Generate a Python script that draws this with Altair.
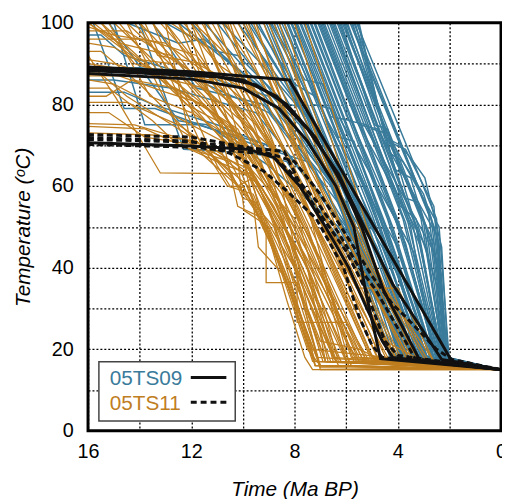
import altair as alt
import pandas as pd

BLUE = "#3a7b9b"
ORANGE = "#bf7e1f"
BLACK = "#111111"
FONT = "Liberation Sans"

X_DOMAIN = [16, 0]
Y_DOMAIN = [0, 100]

# present-day surface temperature where every path ends
END = (0.0, 15.0)

# 05TS09 accepted t-T paths (time Ma, temperature C)
blue_paths = [
    [(9.2, 100), (6.5, 60), (4.3, 18)],
    [(9.0, 100), (6.2, 58), (4.1, 17)],
    [(8.8, 100), (6.0, 57), (3.9, 18)],
    [(8.6, 100), (5.8, 57), (3.7, 17)],
    [(8.4, 100), (5.6, 56), (3.5, 19)],
    [(8.25, 100), (5.4, 55), (3.3, 17)],
    [(8.1, 100), (5.2, 54), (3.2, 18)],
    [(7.95, 100), (5.0, 53), (3.0, 17)],
    [(7.8, 100), (4.9, 54), (2.9, 18)],
    [(7.65, 100), (4.7, 52), (2.8, 17)],
    [(7.5, 100), (4.5, 51), (2.7, 18)],
    [(7.35, 100), (4.4, 52), (2.6, 17)],
    [(7.2, 100), (4.2, 50), (2.55, 17)],
    [(7.05, 100), (4.1, 52), (2.5, 18)],
    [(6.9, 100), (3.9, 50), (2.45, 17)],
    [(6.75, 100), (3.8, 52), (2.4, 16)],
    [(6.6, 100), (3.6, 51), (2.35, 18)],
    [(6.45, 100), (3.4, 50), (2.3, 17)],
    [(6.3, 100), (3.2, 49), (2.25, 17)],
    [(6.15, 100), (3.1, 52), (2.2, 17)],
    [(6.0, 100), (2.9, 50), (2.15, 16)],
    [(5.85, 100), (2.8, 53), (2.1, 17)],
    [(5.7, 100), (2.6, 50), (2.05, 17)],
    [(5.6, 100), (2.5, 52), (2.1, 18)],
    [(5.5, 100), (4.5, 72), (3.9, 70), (3.4, 66), (2.95, 62), (2.3, 45), (2.05, 18)],
    [(5.55, 100), (4.3, 68), (3.8, 66), (3.0, 58), (2.4, 46), (2.1, 17)],
    [(5.65, 100), (4.1, 64), (3.5, 62), (2.45, 40), (2.2, 17)],
    [(6.05, 100), (3.7, 57), (3.2, 56), (2.3, 38), (2.2, 17)],
    [(6.5, 100), (3.9, 55), (3.3, 52), (2.5, 36), (2.3, 18)],
    [(9.1, 100), (6.4, 60), (4.2, 17)],
    [(8.7, 100), (5.9, 58), (3.8, 17)],
    [(8.3, 100), (5.5, 56), (3.4, 18)],
    [(7.9, 100), (5.0, 55), (3.05, 17)],
    [(7.55, 100), (4.6, 52), (2.75, 18)],
    [(7.25, 100), (4.3, 51), (2.6, 17)],
    [(6.95, 100), (4.0, 51), (2.45, 18)],
    [(6.65, 100), (3.7, 51), (2.35, 17)],
    [(6.35, 100), (3.3, 50), (2.25, 18)],
    [(6.1, 100), (3.0, 51), (2.2, 16)],
    [(5.8, 100), (2.7, 52), (2.1, 18)],
    [(7.0, 100), (5.5, 75), (4.8, 74), (3.5, 50), (2.6, 17)],
    [(6.2, 100), (4.9, 75), (4.4, 74), (3.2, 48), (2.3, 17)],
    [(8.0, 100), (6.3, 72), (5.7, 71), (4.0, 40), (3.0, 17)],
    [(10.0, 100), (8.2, 80), (7.5, 79), (5.0, 50), (3.1, 18)],
    [(9.4, 100), (7.6, 78), (4.6, 45), (2.9, 17)],
    [(8.95, 100), (7.3, 80), (6.6, 79), (4.2, 45), (2.7, 17)],
    [(8.5, 100), (6.9, 78), (4.0, 45), (2.6, 18)],
    [(8.15, 100), (6.6, 77), (5.8, 76), (3.7, 46), (2.5, 17)],
    [(7.75, 100), (6.2, 76), (3.4, 44), (2.4, 17)],
    [(7.4, 100), (5.9, 76), (5.2, 75), (3.1, 45), (2.3, 18)],
    [(7.1, 100), (5.6, 76), (2.9, 45), (2.2, 17)],
    [(6.85, 100), (5.3, 75), (2.7, 45), (2.15, 17)],
    [(6.55, 100), (5.0, 74), (4.5, 73), (2.6, 46), (2.1, 16)],
    [(6.25, 100), (4.7, 73), (2.5, 48), (2.05, 17)],
    [(5.95, 100), (4.5, 74), (2.4, 50), (2.0, 17)],
    [(5.75, 100), (4.4, 71), (3.7, 69), (2.6, 55), (2.1, 17)],
    [(9.7, 100), (8.0, 82), (5.8, 60), (3.6, 25), (3.4, 17)],
    [(11.0, 100), (9.0, 84), (6.9, 65), (4.4, 30), (3.8, 18)],
    [(12.0, 100), (9.6, 84), (7.2, 64), (4.8, 33), (4.0, 17)],
    [(16, 89), (14, 89), (12, 88), (9, 82), (6.3, 58), (3.5, 17)],
    [(16, 86), (15, 86), (12.8, 84), (9.5, 78), (6.0, 50), (3.3, 17)],
    [(13.5, 100), (11.8, 84), (9.2, 80), (6.6, 60), (3.8, 18)],
    [(16, 97), (15.5, 97), (14.6, 92), (12.5, 88), (9.0, 78), (6.2, 55), (3.8, 18)],
    [(16, 83), (14.6, 83), (13.5, 80), (11.0, 75), (8.3, 68), (5.5, 45), (3.5, 17)],
    [(15.8, 100), (14.6, 79), (13.4, 79), (9.5, 70), (7.5, 66), (5.0, 40), (3.3, 17)],
    [(14.0, 100), (12.3, 69), (9.6, 68), (8.3, 66), (5.8, 42), (3.4, 18)],
    [(15.0, 100), (13.8, 75), (11.75, 75), (9.0, 70), (6.0, 45), (3.2, 17)],
    [(12.5, 100), (10.5, 90), (8.8, 82), (6.7, 62), (3.6, 17)],
    [(11.5, 100), (9.8, 88), (7.8, 75), (5.2, 45), (3.4, 18)],
    [(10.8, 100), (9.3, 90), (7.4, 76), (4.8, 45), (3.1, 17)],
    [(10.2, 100), (8.8, 88), (6.5, 68), (3.0, 18)],
    [(9.8, 100), (8.5, 87), (4.5, 40), (3.3, 17)],
    [(13.0, 100), (11.0, 93), (10.2, 92), (8.0, 78), (5.5, 50), (3.9, 17)],
    [(14.5, 100), (12.5, 95), (11.5, 96), (9.5, 85), (6.0, 56), (3.7, 18)],
    [(9.5, 100), (8.0, 85), (7.2, 82), (4.0, 38), (2.9, 17)],
    [(15.2, 100), (12.5, 76), (11.4, 75), (9.0, 65), (6.3, 50), (3.6, 18)],
    [(8.9, 100), (7.6, 86), (6.9, 85), (3.8, 35), (2.8, 17)],
]

# 05TS11 accepted t-T paths
orange_paths = [
    [(16, 100), (13.5, 88), (10.5, 70), (7.0, 16)],
    [(15.5, 100), (12.0, 80), (9.5, 62), (6.8, 17)],
    [(15.0, 100), (12.5, 85), (9.8, 66), (6.5, 18)],
    [(14.5, 100), (11.5, 82), (9.0, 60), (6.2, 17)],
    [(14.0, 100), (11.0, 80), (8.8, 60), (5.9, 16)],
    [(13.5, 100), (10.8, 78), (8.5, 58), (5.6, 17)],
    [(13.0, 100), (10.5, 80), (8.2, 58), (5.4, 18)],
    [(12.5, 100), (10.2, 78), (8.0, 56), (5.2, 17)],
    [(12.0, 100), (9.9, 80), (7.8, 58), (5.0, 17)],
    [(11.6, 100), (9.6, 78), (7.5, 55), (4.8, 18)],
    [(11.2, 100), (9.4, 80), (7.2, 54), (4.6, 17)],
    [(10.8, 100), (9.1, 78), (7.0, 52), (4.4, 17)],
    [(10.4, 100), (8.8, 80), (6.8, 52), (4.2, 18)],
    [(10.0, 100), (8.6, 80), (6.6, 50), (4.0, 17)],
    [(9.6, 100), (8.4, 82), (6.4, 50), (3.8, 17)],
    [(9.2, 100), (8.1, 82), (6.0, 47), (3.6, 18)],
    [(8.8, 100), (7.8, 84), (5.8, 48), (3.4, 17)],
    [(8.4, 100), (7.5, 83), (5.5, 45), (3.2, 17)],
    [(9.0, 100), (7.2, 70), (5.0, 40), (2.9, 17)],
    [(8.6, 100), (6.8, 66), (4.6, 36), (2.6, 17)],
    [(16, 98), (14.5, 98), (12.0, 88), (9.5, 70), (7.2, 45), (6.0, 17)],
    [(16, 95), (15.0, 94), (12.5, 85), (10.0, 72), (8.0, 50), (6.5, 20), (6.2, 17)],
    [(16, 90), (14.0, 88), (11.5, 84), (9.0, 70), (7.5, 50), (5.8, 18)],
    [(16, 86), (15.0, 85), (13.5, 80), (10.5, 70), (8.0, 52), (5.5, 18)],
    [(16, 80.5), (14.5, 80.5), (12.5, 75), (9.5, 62), (7.5, 40), (6.8, 17)],
    [(16, 75.3), (14.2, 75), (11.5, 70), (9.3, 60), (7.5, 40), (6.5, 17)],
    [(16, 74.6), (13.8, 74), (11.0, 66), (9.8, 63), (8.2, 45), (7.0, 15)],
    [(16, 92), (14.9, 81.4), (13.2, 63.2), (9.8, 63), (8.5, 48), (7.2, 30), (6.7, 17)],
    [(13.5, 100), (11.0, 65), (10.5, 60), (9.95, 59.6), (8.5, 40), (7.3, 17)],
    [(12.5, 100), (10.2, 66), (9.95, 54), (9.0, 50), (7.5, 30), (6.8, 17)],
    [(13.0, 100), (10.0, 70), (9.1, 48), (9.1, 36.3), (7.9, 36.3), (7.0, 16)],
    [(11.0, 100), (9.0, 65), (7.9, 40), (7.9, 26.6), (6.0, 26.6), (5.2, 17)],
    [(10.5, 100), (8.5, 60), (7.5, 30), (7.0, 22), (5.5, 20), (4.5, 17)],
    [(12.0, 100), (9.5, 58), (8.2, 36), (7.0, 15.5)],
    [(9.8, 100), (8.0, 70), (6.0, 40), (4.5, 22), (3.0, 17)],
    [(10.6, 100), (8.3, 62), (6.5, 38), (5.2, 20), (4.8, 17)],
    [(11.8, 100), (9.5, 68), (7.4, 40), (6.0, 22), (5.5, 17)],
    [(8.0, 100), (7.0, 80), (5.5, 50), (4.0, 28), (3.2, 17)],
    [(7.6, 100), (6.6, 80), (5.2, 50), (3.8, 28), (2.8, 17)],
    [(9.5, 100), (7.5, 62), (5.6, 35), (4.0, 35), (3.6, 30), (2.6, 17)],
    [(16, 100), (14.8, 95), (12.8, 92), (10.0, 78), (8.0, 55), (6.3, 17)],
    [(16, 93), (15.5, 93), (14.0, 85), (11.0, 66), (8.8, 50), (7.2, 17)],
    [(16, 88), (15.6, 88), (14.5, 82), (12.0, 72), (9.8, 60), (8.5, 40), (7.2, 16)],
    [(16, 84), (15.2, 84), (13.5, 76), (12.5, 70), (10.5, 66), (9.0, 48), (7.5, 20), (7.0, 16)],
    [(15.2, 100), (13.6, 82), (12.0, 78), (10.0, 70), (8.7, 55), (6.3, 16)],
    [(14.2, 100), (12.8, 88), (11.3, 86), (9.4, 72), (7.6, 48), (5.5, 17)],
    [(13.2, 100), (11.8, 90), (10.0, 84), (8.5, 70), (6.8, 45), (4.9, 17)],
    [(12.3, 100), (11.0, 90), (9.2, 82), (7.6, 62), (5.5, 30), (4.6, 17)],
    [(14.5, 100), (12.3, 72), (11.0, 64.5), (10.2, 60), (9.6, 62), (8.4, 48), (6.6, 17)],
    [(13.8, 100), (11.6, 70), (10.8, 68), (10.0, 57), (9.5, 56), (8.0, 40), (6.4, 17)],
    [(16, 99), (15.0, 97), (13.0, 95), (11.5, 88), (9.5, 75), (7.5, 55), (5.9, 17)],
    [(16, 96), (13.8, 96), (11.8, 92), (9.6, 74), (7.0, 42), (5.7, 17)],
    [(15.8, 100), (14.0, 91), (12.8, 90), (10.5, 72), (8.5, 50), (6.9, 17)],
    [(15.5, 100), (14.2, 90), (12.2, 86), (10.8, 76), (9.0, 55), (7.1, 18)],
    [(16, 91), (15.0, 90), (13.4, 87), (11.2, 78), (8.8, 55), (6.0, 17)],
    [(16, 87), (14.8, 87), (13.0, 83), (11.5, 80), (9.3, 66), (7.8, 40), (6.4, 17)],
    [(16, 82), (15.3, 82), (14.3, 86), (12.6, 84), (10.2, 74), (8.2, 50), (5.3, 17)],
    [(16, 78), (15.2, 78), (13.8, 72), (11.8, 70), (9.7, 64), (7.9, 45), (5.8, 16)],
    [(14.8, 100), (13.0, 86), (12.2, 80), (10.4, 74), (8.4, 54), (5.1, 17)],
    [(14.0, 100), (13.3, 92), (11.6, 90), (9.8, 80), (7.9, 60), (5.0, 18)],
    [(12.8, 100), (11.4, 94), (10.6, 85), (8.9, 70), (6.7, 44), (4.7, 17)],
    [(11.9, 100), (10.6, 92), (9.3, 76), (7.3, 52), (4.3, 17)],
    [(11.4, 100), (10.0, 86), (8.7, 72), (6.9, 50), (4.1, 18)],
    [(10.7, 100), (9.5, 88), (8.2, 72), (6.3, 48), (3.9, 17)],
    [(10.2, 100), (9.0, 86), (7.9, 72), (6.2, 50), (3.7, 18)],
    [(9.9, 100), (8.7, 84), (7.4, 64), (5.4, 40), (3.5, 17)],
    [(13.0, 100), (12.0, 70), (11.4, 68), (10.6, 60), (9.6, 58), (8.1, 35), (7.2, 16)],
    [(12.2, 100), (10.9, 75), (10.2, 55), (9.2, 52), (8.3, 32), (7.6, 18), (7.3, 15)],
    [(11.5, 100), (10.3, 75), (9.6, 56), (9.4, 45), (8.4, 38), (7.4, 20)],
    [(16, 73), (13.5, 72.5), (11.8, 71), (10.6, 64), (9.1, 50), (7.4, 22), (7.2, 16)],
]

# best-fit paths, 05TS09 (solid)
solid_paths = [
    [(16, 89.2), (12, 88), (8.2, 86), (1.9, 17)],
    [(16, 88.3), (11, 86.8), (9.5, 84.8), (8.3, 80), (7.2, 72), (6.2, 61), (5.4, 50), (4.56, 34.6), (3.14, 17.2)],
    [(16, 87.6), (12, 86.2), (10, 84), (8.6, 79), (7.5, 71), (6.4, 60), (5.7, 50), (5.24, 34), (4.67, 17.7)],
    [(16, 88.8), (12, 87.6), (10, 86), (8.7, 82), (7.5, 74), (6.3, 63), (5.3, 50), (4.2, 36), (2.3, 17.5)],
    [(16, 70.6), (12, 69.8), (9.8, 69), (8.8, 67), (7.8, 60), (6.8, 50), (5.9, 40), (5.2, 30), (4.6, 22), (4.2, 18)],
]

# best-fit paths, 05TS11 (dashed)
dashed_paths = [
    [(16, 72.6), (12, 72), (9.7, 69.3), (8.4, 68.5), (7.66, 59), (6.66, 50), (6.0, 44), (5.24, 34.6), (4.86, 28), (4.5, 22), (4.0, 18.5)],
    [(16, 71.9), (12, 71), (10.5, 68), (9.2, 63.7), (8.3, 58.8), (7.16, 52), (6.1, 40), (5.5, 28), (5.0, 21), (4.6, 18)],
    [(16, 70.2), (12, 69.5), (8.96, 67.8), (8.2, 63.7), (7.16, 56.4), (6.28, 48.4), (5.5, 40), (4.86, 34.6), (3.6, 20.8), (3.33, 17.7)],
    [(16, 71.4), (12, 70.8), (9.5, 69), (8.0, 66), (7.0, 58), (6.0, 48), (5.0, 38), (4.2, 31), (3.7, 28), (2.5, 20), (1.9, 17.5)],
]

x_ticks = list(range(16, -1, -2))
y_ticks = list(range(0, 101, 10))


def to_frame(paths, prefix):
    rows = []
    for i, p in enumerate(paths):
        pts = list(p) + [END]
        for j, (t, temp) in enumerate(pts):
            rows.append({"pid": f"{prefix}{i}", "k": j, "t": t, "T": temp})
    return pd.DataFrame(rows)


x_axis = alt.Axis(
    values=x_ticks,
    labelExpr="datum.value % 4 === 0 ? datum.label : ''",
    ticks=False, domain=False,
    grid=True, gridDash=[2, 2], gridColor="black", gridWidth=1.3,
    labelFont=FONT, labelFontSize=20, labelColor="black", labelPadding=11,
    labelOverlap=False, labelFlush=False,
    title="Time (Ma BP)", titleFont=FONT, titleFontSize=21,
    titleFontStyle="italic", titleFontWeight="normal", titleColor="black",
    titlePadding=17,
)
y_axis = alt.Axis(
    values=y_ticks,
    labelExpr="datum.value % 20 === 0 ? datum.label : ''",
    ticks=False, domain=False,
    grid=True, gridDash=[2, 2], gridColor="black", gridWidth=1.3,
    labelFont=FONT, labelFontSize=20, labelColor="black", labelPadding=15,
    labelOverlap=False, labelFlush=False,
    title="Temperature (ᵒC)", titleFont=FONT, titleFontSize=21,
    titleFontStyle="italic", titleFontWeight="normal", titleColor="black",
    titlePadding=7,
)

xs = alt.Scale(domain=X_DOMAIN, nice=False)
ys = alt.Scale(domain=Y_DOMAIN, nice=False)


def lines(df, color, width, dash=None, clip=True):
    kw = dict(color=color, strokeWidth=width, clip=clip)
    if dash:
        kw["strokeDash"] = dash
    return alt.Chart(df).mark_line(**kw).encode(
        x=alt.X("t:Q", scale=xs, axis=x_axis),
        y=alt.Y("T:Q", scale=ys, axis=y_axis),
        detail="pid:N", order="k:Q",
    )


blue = lines(to_frame(blue_paths, "b"), BLUE, 1.5)
orange = lines(to_frame(orange_paths, "o"), ORANGE, 1.3)
solid = lines(to_frame(solid_paths, "s"), BLACK, 3)
dashed = lines(to_frame(dashed_paths, "d"), BLACK, 3, [6, 3.5])

# plot frame along the axis domain corners
x0, x1 = X_DOMAIN
y0, y1 = Y_DOMAIN
frame_df = pd.DataFrame({
    "pid": ["frame"] * 5,
    "k": list(range(5)),
    "t": [x0, x0, x1, x1, x0],
    "T": [y0, y1, y1, y0, y0],
})
frame = alt.Chart(frame_df).mark_line(color="black", strokeWidth=3, clip=False,
                                      strokeJoin="miter", strokeCap="square").encode(
    x=alt.X("t:Q", scale=xs, axis=x_axis),
    y=alt.Y("T:Q", scale=ys, axis=y_axis),
    detail="pid:N", order="k:Q",
)

one = alt.Data(values=[{}])
box = alt.Chart(one).mark_rect(fill="white", stroke="#444", strokeWidth=1.5).encode(
    x=alt.value(11), x2=alt.value(149), y=alt.value(343), y2=alt.value(403))
t1 = alt.Chart(one).mark_text(text="05TS09", color=BLUE, fontSize=21, font=FONT,
                              align="left", baseline="alphabetic").encode(
    x=alt.value(22), y=alt.value(367))
t2 = alt.Chart(one).mark_text(text="05TS11", color=ORANGE, fontSize=21, font=FONT,
                              align="left", baseline="alphabetic").encode(
    x=alt.value(22), y=alt.value(392))
r1 = alt.Chart(one).mark_rule(color=BLACK, strokeWidth=3).encode(
    x=alt.value(104), x2=alt.value(140), y=alt.value(359))
r2 = alt.Chart(one).mark_rule(color=BLACK, strokeWidth=3, strokeDash=[6, 4]).encode(
    x=alt.value(104), x2=alt.value(140), y=alt.value(384))

chart = alt.layer(blue, orange, solid, dashed, frame, box, t1, t2, r1, r2).properties(
    width=418, height=413,
    autosize=alt.AutoSizeParams(type="none"),
    padding={"left": 81, "top": 12, "right": 1, "bottom": 66},
).configure_view(strokeWidth=0)

chart.save("out.html", embed_options={"renderer": "svg", "actions": False})
